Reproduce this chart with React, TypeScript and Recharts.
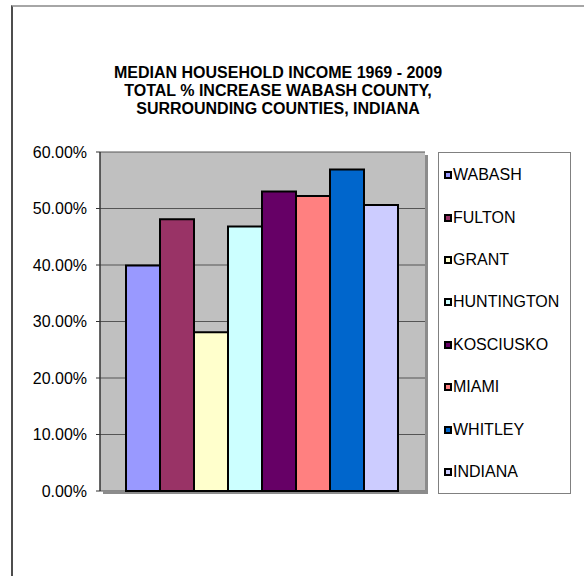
import * as R from 'recharts';
import { BarChart, Bar, XAxis, YAxis, CartesianGrid, Legend } from 'recharts';

const seriesNames = ['WABASH', 'FULTON', 'GRANT', 'HUNTINGTON', 'KOSCIUSKO', 'MIAMI', 'WHITLEY', 'INDIANA'];
const seriesValues = [0.399, 0.481, 0.281, 0.468, 0.53, 0.522, 0.569, 0.506];
const seriesColors = ['#9999ff', '#993366', '#ffffcc', '#ccffff', '#660066', '#ff8080', '#0066cc', '#ccccff'];
const yTicks = [0, 0.1, 0.2, 0.3, 0.4, 0.5, 0.6];
const titleLines = [
  'MEDIAN HOUSEHOLD INCOME 1969 - 2009',
  'TOTAL % INCREASE WABASH COUNTY,',
  'SURROUNDING COUNTIES, INDIANA',
];

const row: Record<string, string | number> = { name: '' };
seriesNames.forEach((n, i) => {
  row[n] = seriesValues[i];
});
const data = [row];

const FONT = '"Liberation Sans", Arial, sans-serif';

// drop shadow on the right / bottom of the plot area, like Excel
const PlotShadow = () => {
  const usePlotArea = (R as any).usePlotArea;
  const area = usePlotArea ? usePlotArea() : null;
  if (!area) return null;
  return (
    <g>
      <rect x={area.x + area.width} y={area.y + 3} width={3} height={area.height} fill="#8c8c8c" />
      <rect x={area.x + 3} y={area.y + area.height} width={area.width} height={3} fill="#8c8c8c" />
    </g>
  );
};

const LegendBox = () => (
  <div
    style={{
      width: 131,
      height: 339,
      border: '1px solid #808080',
      background: '#fff',
      paddingTop: 1,
      boxSizing: 'content-box',
      textAlign: 'left',
    }}
  >
    {seriesNames.map((n, i) => (
      <div
        key={n}
        style={{
          height: 42.4,
          display: 'flex',
          alignItems: 'center',
          paddingLeft: 5,
          fontFamily: FONT,
          fontSize: 16,
          color: '#000',
        }}
      >
        <span
          style={{
            display: 'inline-block',
            width: 4,
            height: 4,
            border: '2px solid #000',
            background: seriesColors[i],
            marginRight: 1,
          }}
        />
        {n}
      </div>
    ))}
  </div>
);

const App = () => {
  return (
    <div
      style={{
        position: 'absolute',
        left: 0,
        top: 0,
        width: 584,
        height: 576,
        background: '#fff',
        overflow: 'hidden',
      }}
    >
      {/* chart frame */}
      <div
        style={{
          position: 'absolute',
          left: 11,
          top: 5,
          width: 700,
          height: 700,
          borderTop: '2px solid #a6a6a6',
          borderLeft: '2px solid #4d4d4d',
        }}
      />

      {/* title */}
      <div
        style={{
          position: 'absolute',
          left: 0,
          top: 64,
          width: 556,
          textAlign: 'center',
          fontFamily: FONT,
          fontWeight: 'bold',
          fontSize: 16,
          lineHeight: '18px',
          color: '#000',
        }}
      >
        {titleLines.map((t) => (
          <div key={t}>{t}</div>
        ))}
      </div>

      <div style={{ position: 'absolute', left: 0, top: 0 }}>
        <BarChart
          width={584}
          height={576}
          data={data}
          margin={{ top: 152, right: 159, bottom: 85, left: 11 }}
          barCategoryGap="8%"
          barGap={0}
        >
          <CartesianGrid vertical={false} fill="#c0c0c0" stroke="#555" strokeWidth={1} />
          <PlotShadow />
          <XAxis dataKey="name" hide />
          <YAxis
            width={89}
            domain={[0, 0.6]}
            ticks={yTicks}
            interval={0}
            tickFormatter={(v: number) => `${(v * 100).toFixed(2)}%`}
            axisLine={{ stroke: '#333', strokeWidth: 1.5 }}
            tickLine={{ stroke: '#333' }}
            tickSize={4}
            tickMargin={9}
            tick={{ fill: '#000', fontSize: 16, fontFamily: FONT }}
          />
          <Legend
            layout="vertical"
            align="center"
            verticalAlign="middle"
            content={() => <LegendBox />}
            wrapperStyle={{ left: 438, top: 152, width: 133, height: 341 }}
          />
          {seriesNames.map((n, i) => (
            <Bar
              key={n}
              dataKey={n}
              fill={seriesColors[i]}
              stroke="#000"
              strokeWidth={2}
              isAnimationActive={false}
            />
          ))}
        </BarChart>
      </div>
    </div>
  );
};

export default App;
